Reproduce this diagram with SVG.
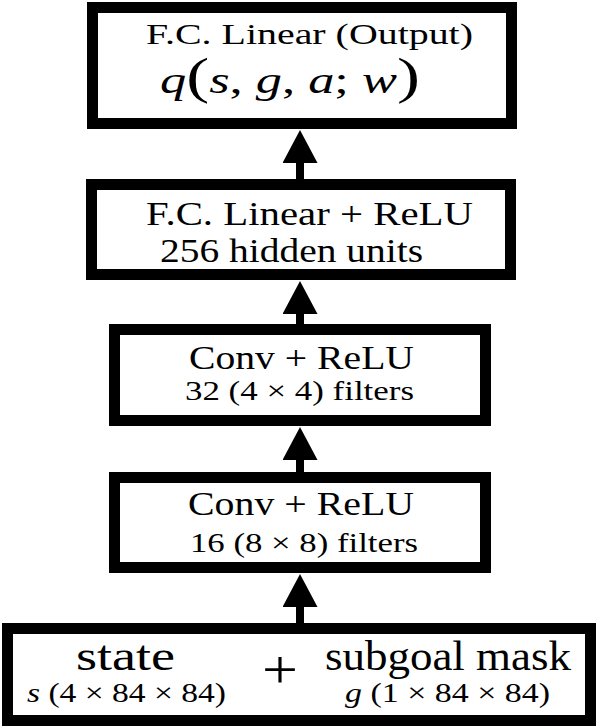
<svg xmlns="http://www.w3.org/2000/svg" width="598" height="727" viewBox="0 0 598 727">
<defs>
<style>
.box{fill:#fff;stroke:#000;stroke-width:11}
.t{font-family:"Liberation Serif","Times New Roman",serif;fill:#000}
.conn{stroke:#000;stroke-width:8;fill:none}
</style>
<marker id="ah" markerUnits="userSpaceOnUse" viewBox="0 0 33 35" refX="0" refY="17.5" markerWidth="33" markerHeight="35" orient="auto">
<path d="M0,0 L33,17.5 L0,35 Z" fill="#000"/>
</marker>
</defs>
<rect width="598" height="727" fill="#fff"/>
<g id="connectors">
<line class="conn" x1="300" y1="179" x2="300" y2="163" marker-end="url(#ah)"/>
<line class="conn" x1="300" y1="324" x2="300" y2="314" marker-end="url(#ah)"/>
<line class="conn" x1="300" y1="472" x2="300" y2="460" marker-end="url(#ah)"/>
<line class="conn" x1="300" y1="623" x2="300" y2="607" marker-end="url(#ah)"/>
</g>
<g id="output">
<rect class="box" x="92.5" y="7.5" width="419" height="116"/>
<text class="t" x="146" y="44" font-size="29" textLength="327" lengthAdjust="spacingAndGlyphs">F.C. Linear (Output)</text>
<text class="t" x="160" y="93" font-size="38" font-style="italic" textLength="260" lengthAdjust="spacingAndGlyphs">q<tspan font-style="normal" font-size="50">(</tspan>s<tspan font-style="normal">, </tspan>g<tspan font-style="normal">, </tspan>a<tspan font-style="normal">; </tspan>w<tspan font-style="normal" font-size="50">)</tspan></text>
</g>
<g id="fc">
<rect class="box" x="91.5" y="184.5" width="419" height="90"/>
<text class="t" x="146" y="225" font-size="34" textLength="327" lengthAdjust="spacingAndGlyphs">F.C. Linear + ReLU</text>
<text class="t" x="160" y="262" font-size="34" textLength="263" lengthAdjust="spacingAndGlyphs">256 hidden units</text>
</g>
<g id="conv2">
<rect class="box" x="114.5" y="329.5" width="371" height="91"/>
<text class="t" x="189" y="369" font-size="34" textLength="225" lengthAdjust="spacingAndGlyphs">Conv + ReLU</text>
<text class="t" x="185" y="400" font-size="27" textLength="229" lengthAdjust="spacingAndGlyphs">32 (4 × 4) filters</text>
</g>
<g id="conv1">
<rect class="box" x="114.5" y="477.5" width="371" height="90"/>
<text class="t" x="188" y="515" font-size="34" textLength="226" lengthAdjust="spacingAndGlyphs">Conv + ReLU</text>
<text class="t" x="190" y="552" font-size="27" textLength="228" lengthAdjust="spacingAndGlyphs">16 (8 × 8) filters</text>
</g>
<g id="input">
<rect class="box" x="7.5" y="628.5" width="583" height="92"/>
<text class="t" x="76" y="670" font-size="42" textLength="99" lengthAdjust="spacingAndGlyphs">state</text>
<text class="t" x="262" y="688" font-size="54" textLength="36" lengthAdjust="spacingAndGlyphs">+</text>
<text class="t" x="325" y="670" font-size="42" textLength="246" lengthAdjust="spacingAndGlyphs">subgoal mask</text>
<text class="t" x="27" y="702" font-size="28" textLength="199" lengthAdjust="spacingAndGlyphs"><tspan font-style="italic">s</tspan> (4 × 84 × 84)</text>
<text class="t" x="345" y="702" font-size="28" textLength="205" lengthAdjust="spacingAndGlyphs"><tspan font-style="italic">g</tspan> (1 × 84 × 84)</text>
</g>
</svg>
